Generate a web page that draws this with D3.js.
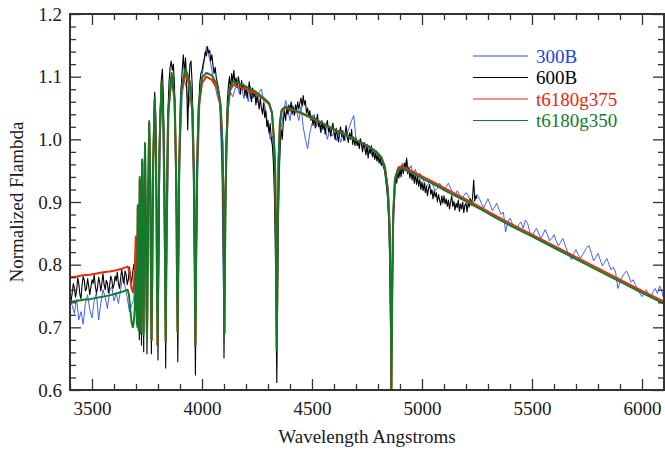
<!DOCTYPE html>
<html><head><meta charset="utf-8">
<script src="https://cdn.jsdelivr.net/npm/d3@7"></script>
<style>
body{margin:0;background:#fff}
</style>
</head><body>
<svg id="chart" width="665" height="450"></svg>
<script>
// ---- axis ticks ----
const xMajorTicks = [3500, 4000, 4500, 5000, 5500, 6000];
const yMajorTicks = [0.6, 0.7, 0.8, 0.9, 1.0, 1.1, 1.2];

// ---- legend ----
const seriesNames = ["300B", "600B", "t6180g375", "t6180g350"];

// ---- model spectra (wavelength, flux) ----
const modelWave = [
3400,3430,3460,3490,3520,3550,3580,3610,3640,3655,
3662,3668,3674,3680,3686,3691,3695,3699,3702,3704,
3706,3708,3710,3712,3714,3717,3719,3722,3725,3728,
3731,3734,3737,3741,3745,3748,3750,3752,3755,3760,
3765,3768,3771,3774,3778,3785,3791,3795,3798,3801,
3806,3816,3826,3831,3835,3839,3846,3862,3876,3883,
3886,3889,3892,3896,3905,3925,3945,3957,3963,3967,
3970,3973,3977,3985,4000,4020,4045,4070,4085,4093,
4098,4102,4106,4111,4117,4127,4142,4170,4200,4240,
4280,4305,4318,4326,4332,4336,4340,4344,4348,4354,
4362,4378,4420,4460,4520,4600,4680,4750,4790,4815,
4832,4845,4853,4858,4861,4864,4869,4877,4892,4908,
4960,5050,5112,5200,5264,5340,5415,5500,5600,5700,
5800,5900,6000,6100];
const modelT375 = [
0.780,0.781,0.783,0.784,0.786,0.788,0.789,0.791,0.794,0.796,
0.797,0.792,0.778,0.762,0.756,0.768,0.800,0.845,0.790,0.715,
0.800,0.890,0.790,0.700,0.800,0.935,0.830,0.695,0.850,0.965,
0.820,0.690,0.850,0.990,0.860,0.730,0.682,0.740,0.900,1.025,
0.930,0.780,0.680,0.790,0.960,1.062,0.970,0.800,0.672,0.790,
0.980,1.087,1.010,0.860,0.677,0.860,1.040,1.100,1.060,0.930,
0.800,0.693,0.800,0.960,1.075,1.104,1.085,1.040,0.950,0.800,
0.672,0.800,0.950,1.050,1.090,1.100,1.095,1.080,1.050,0.990,
0.900,0.690,0.880,0.990,1.045,1.078,1.087,1.084,1.080,1.074,
1.064,1.056,1.042,1.005,0.960,0.860,0.664,0.860,0.965,1.025,
1.045,1.050,1.046,1.040,1.030,1.016,1.002,0.990,0.981,0.972,
0.955,0.920,0.860,0.740,0.595,0.740,0.880,0.938,0.955,0.957,
0.948,0.932,0.920,0.904,0.892,0.877,0.863,0.848,0.830,0.812,
0.794,0.776,0.758,0.741];
const modelT350 = [
0.741,0.742,0.744,0.745,0.747,0.749,0.751,0.754,0.757,0.759,
0.760,0.752,0.728,0.708,0.700,0.712,0.735,0.790,0.760,0.705,
0.790,0.895,0.790,0.695,0.800,0.940,0.830,0.690,0.850,0.968,
0.820,0.688,0.850,0.993,0.860,0.730,0.682,0.740,0.900,1.028,
0.930,0.780,0.680,0.790,0.960,1.066,0.970,0.800,0.672,0.790,
0.980,1.092,1.012,0.860,0.677,0.860,1.042,1.106,1.063,0.930,
0.800,0.693,0.800,0.960,1.080,1.113,1.092,1.045,0.950,0.800,
0.672,0.800,0.950,1.055,1.098,1.106,1.102,1.086,1.055,0.992,
0.900,0.690,0.880,0.990,1.048,1.083,1.092,1.089,1.084,1.077,
1.066,1.058,1.043,1.005,0.960,0.860,0.664,0.860,0.965,1.027,
1.047,1.052,1.047,1.041,1.031,1.016,1.002,0.990,0.981,0.971,
0.953,0.918,0.858,0.740,0.595,0.740,0.878,0.935,0.952,0.954,
0.945,0.929,0.917,0.901,0.889,0.874,0.860,0.845,0.827,0.809,
0.791,0.773,0.755,0.738];

// ---- observed 300B spectrum, sampled every 10 A from 3400 A ----
const wave300B = d3.range(3400, 6101, 10);
const flux300B = [
0.742,0.735,0.722,0.745,0.712,0.725,0.705,0.738,0.752,0.728,
0.715,0.742,0.755,0.712,0.738,0.760,0.748,0.730,0.758,0.765,
0.742,0.755,0.738,0.760,0.781,0.765,0.748,0.725,0.735,0.745,
0.820,0.740,0.900,0.760,0.960,0.720,1.000,0.710,0.990,1.020,
0.700,1.050,1.080,0.800,0.800,1.050,1.090,1.100,0.960,0.710,
0.980,1.070,1.095,1.080,1.052,1.085,0.950,0.700,0.930,1.060,
1.100,1.125,1.148,1.135,1.120,1.100,1.085,1.068,1.058,0.960,
0.700,0.950,1.060,1.075,1.068,1.080,1.090,1.072,1.085,1.065,
1.078,1.060,1.085,1.065,1.072,1.058,1.075,1.080,1.062,1.045,
1.020,1.000,1.005,0.940,0.700,0.930,1.020,1.040,1.062,1.048,
1.030,1.055,1.040,1.045,1.030,1.052,1.020,1.000,0.985,1.010,
1.025,1.040,1.020,1.030,1.010,1.025,1.018,1.000,1.015,1.005,
1.010,0.998,1.012,0.995,1.005,0.998,1.010,1.020,1.030,1.038,
1.000,0.990,1.002,0.985,0.995,0.980,0.990,0.975,0.985,0.970,
0.978,0.965,0.960,0.962,0.930,0.860,0.640,0.860,0.935,0.952,
0.945,0.962,0.955,0.968,0.950,0.958,0.944,0.952,0.940,0.946,
0.940,0.932,0.924,0.930,0.935,0.926,0.918,0.922,0.930,0.924,
0.918,0.924,0.930,0.922,0.914,0.910,0.918,0.912,0.904,0.910,
0.915,0.910,0.902,0.896,0.904,0.912,0.906,0.898,0.890,0.898,
0.905,0.896,0.886,0.892,0.898,0.888,0.880,0.884,0.852,0.868,
0.874,0.866,0.860,0.856,0.864,0.868,0.858,0.871,0.866,0.852,
0.845,0.852,0.858,0.850,0.842,0.848,0.856,0.848,0.838,0.842,
0.848,0.838,0.830,0.836,0.842,0.832,0.822,0.815,0.808,0.818,
0.824,0.816,0.810,0.816,0.822,0.828,0.830,0.818,0.806,0.812,
0.818,0.808,0.798,0.804,0.810,0.800,0.792,0.796,0.788,0.762,
0.772,0.780,0.786,0.790,0.782,0.772,0.776,0.768,0.760,0.754,
0.749,0.756,0.760,0.752,0.748,0.756,0.762,0.754,0.766,0.758,0.744];

// ---- observed 600B spectrum, sampled every 5 A from 3400 A ----
const wave600B = d3.range(3400, 5251, 5);
const flux600B = [
0.752,0.742,0.755,0.770,0.762,0.748,0.758,0.779,0.770,0.752,0.746,0.768,0.781,0.775,0.758,0.762,0.778,0.766,0.752,0.764,
0.776,0.770,0.784,0.766,0.755,0.763,0.780,0.772,0.758,0.770,0.786,0.768,0.760,0.775,0.770,0.755,0.766,0.782,0.776,0.762,
0.768,0.782,0.774,0.788,0.770,0.762,0.778,0.792,0.780,0.770,0.790,0.785,0.768,0.776,0.796,0.782,0.770,0.788,0.800,0.786,
0.835,0.700,0.880,0.680,0.935,0.672,0.965,0.661,0.995,0.880,0.658,0.890,1.030,0.960,0.658,0.860,1.020,1.075,1.040,0.860,
0.648,0.860,1.040,1.095,1.112,1.060,0.900,0.635,0.900,1.040,1.090,1.115,1.125,1.110,1.120,1.085,1.000,0.850,0.645,0.870,
1.020,1.080,1.110,1.135,1.105,1.130,1.095,1.015,1.080,1.120,1.125,1.090,1.020,0.850,0.624,0.840,0.990,1.050,1.090,1.105,
1.110,1.120,1.128,1.140,1.133,1.148,1.138,1.142,1.125,1.135,1.118,1.105,1.115,1.098,1.090,1.080,1.068,1.040,0.990,0.900,
0.651,0.880,1.000,1.060,1.085,1.100,1.078,1.105,1.092,1.110,1.088,1.098,1.082,1.100,1.090,1.072,1.094,1.080,1.088,1.070,
1.085,1.066,1.078,1.092,1.070,1.060,1.082,1.068,1.075,1.055,1.070,1.062,1.048,1.066,1.050,1.040,1.058,1.035,1.045,1.020,
1.030,1.010,1.025,1.000,0.990,0.960,0.900,0.780,0.612,0.800,0.940,0.995,1.015,1.000,1.030,1.045,1.030,1.050,1.040,1.055,
1.045,1.060,1.040,1.052,1.038,1.055,1.046,1.060,1.048,1.058,1.066,1.052,1.070,1.055,1.062,1.042,1.050,1.035,1.046,1.030,
1.038,1.022,1.035,1.018,1.030,1.040,1.020,1.028,1.012,1.030,1.016,1.024,1.008,1.022,1.030,1.012,1.020,1.005,1.018,1.026,
1.010,1.000,1.018,1.006,0.996,1.012,1.020,1.004,1.014,0.998,1.008,1.022,1.005,0.995,1.010,1.000,1.016,0.992,1.004,0.990,
1.002,0.990,0.998,0.985,1.000,0.992,0.980,0.995,0.986,0.975,0.992,0.970,0.984,0.978,0.990,0.972,0.980,0.968,0.978,0.965,
0.975,0.962,0.970,0.958,0.965,0.955,0.950,0.935,0.920,0.900,0.860,0.780,0.590,0.780,0.880,0.925,0.940,0.930,0.948,0.938,
0.952,0.940,0.958,0.945,0.962,0.950,0.970,0.945,0.955,0.938,0.950,0.935,0.948,0.930,0.945,0.928,0.940,0.925,0.936,0.920,
0.932,0.918,0.930,0.915,0.925,0.910,0.922,0.928,0.912,0.920,0.905,0.918,0.908,0.915,0.900,0.912,0.903,0.895,0.910,0.898,
0.910,0.897,0.905,0.893,0.903,0.889,0.900,0.910,0.893,0.901,0.887,0.898,0.891,0.903,0.885,0.897,0.889,0.900,0.883,0.895,
0.898,0.884,0.900,0.892,0.905,0.895,0.908,0.935,0.902,0.910,0.905];

// ---- drawing ----
const FONT = '"Liberation Serif", "Times New Roman", "DejaVu Serif", serif';
const W = 665, H = 450;
const m = {left: 70, right: 1, top: 14, bottom: 60};
const x0 = m.left, x1 = W - m.right, y0 = m.top, y1 = H - m.bottom;

const svg = d3.select("#chart");
const x = d3.scaleLinear().domain([3400, 6100]).range([x0, x1]);
const y = d3.scaleLinear().domain([0.6, 1.2]).range([y1, y0]);

svg.append("defs").append("clipPath").attr("id", "plotclip")
  .append("rect").attr("x", x0).attr("y", y0).attr("width", x1 - x0).attr("height", y1 - y0);

const series = [
  {name: seriesNames[0], wave: wave300B, flux: flux300B, color: "#3050ee", width: 0.9},
  {name: seriesNames[1], wave: wave600B, flux: flux600B, color: "#000000", width: 1.1},
  {name: seriesNames[2], wave: modelWave, flux: modelT375, color: "#ec2a10", width: 2},
  {name: seriesNames[3], wave: modelWave, flux: modelT350, color: "#137a2c", width: 2}
];
const textColors = ["#2040e8", "#000000", "#e8260e", "#137a2c"];

const line = d3.line().x(d => x(d[0])).y(d => y(d[1]));
const g = svg.append("g").attr("clip-path", "url(#plotclip)");
series.forEach(s => {
  const pts = s.wave.map((w, i) => [w, s.flux[i]]);
  g.append("path").datum(pts).attr("d", line)
    .attr("fill", "none").attr("stroke", s.color)
    .attr("stroke-width", s.width).attr("stroke-linejoin", "round");
});

// axes
const xMinor = d3.range(3400, 6101, 100).filter(v => v % 500 !== 0);
const yMinor = d3.range(0, 31).map(i => 0.6 + i * 0.02).filter(v => Math.abs(v * 10 - Math.round(v * 10)) > 1e-6);
const fs = 19;
const axColor = "#333";
function styleAxis(sel) {
  sel.attr("font-family", null);
  sel.selectAll("path.domain").remove();
  sel.selectAll("line").attr("stroke", axColor).attr("stroke-width", 1.3);
  sel.selectAll("text").attr("fill", "#1a1a1a").style("font-family", FONT).style("font-size", fs + "px");
}
const MAJ = 11, MIN = 6;
svg.append("g").attr("transform", `translate(0,${y1})`)
  .call(d3.axisBottom(x).tickValues(xMajorTicks).tickSize(-MAJ).tickPadding(12).tickFormat(d3.format("d"))).call(styleAxis);
svg.append("g").attr("transform", `translate(0,${y1})`)
  .call(d3.axisBottom(x).tickValues(xMinor).tickSize(-MIN).tickFormat("")).call(styleAxis);
svg.append("g").attr("transform", `translate(0,${y0})`)
  .call(d3.axisTop(x).tickValues(xMajorTicks).tickSize(-MAJ).tickFormat("")).call(styleAxis);
svg.append("g").attr("transform", `translate(0,${y0})`)
  .call(d3.axisTop(x).tickValues(xMinor).tickSize(-MIN).tickFormat("")).call(styleAxis);
svg.append("g").attr("transform", `translate(${x0},0)`)
  .call(d3.axisLeft(y).tickValues(yMajorTicks).tickSize(-MAJ).tickPadding(8).tickFormat(d3.format(".1f"))).call(styleAxis);
svg.append("g").attr("transform", `translate(${x0},0)`)
  .call(d3.axisLeft(y).tickValues(yMinor).tickSize(-MIN).tickFormat("")).call(styleAxis);
svg.append("g").attr("transform", `translate(${x1},0)`)
  .call(d3.axisRight(y).tickValues(yMajorTicks).tickSize(-MAJ).tickFormat("")).call(styleAxis);
svg.append("g").attr("transform", `translate(${x1},0)`)
  .call(d3.axisRight(y).tickValues(yMinor).tickSize(-MIN).tickFormat("")).call(styleAxis);

svg.append("rect").attr("x", x0).attr("y", y0).attr("width", x1 - x0).attr("height", y1 - y0)
  .attr("fill", "none").attr("stroke", axColor).attr("stroke-width", 2);

// titles
svg.append("text").attr("x", (x0 + x1) / 2).attr("y", 443).attr("text-anchor", "middle")
  .style("font-family", FONT).style("font-size", fs + "px").attr("fill", "#1a1a1a").text("Wavelength Angstroms");
svg.append("text").attr("transform", `translate(23,${(y0 + y1) / 2}) rotate(-90)`).attr("text-anchor", "middle")
  .style("font-family", FONT).style("font-size", fs + "px").attr("fill", "#1a1a1a").text("Normalized Flambda");

// legend
const lg = svg.append("g");
series.forEach((s, i) => {
  const ly = 56 + i * 21.5;
  lg.append("line").attr("x1", 473).attr("x2", 528).attr("y1", ly).attr("y2", ly)
    .attr("stroke", s.color).attr("stroke-width", 1.2);
  lg.append("text").attr("x", 536).attr("y", ly).attr("dy", "0.35em")
    .style("font-family", FONT).style("font-size", fs + "px").attr("fill", textColors[i]).text(s.name);
});
</script>
</body></html>
